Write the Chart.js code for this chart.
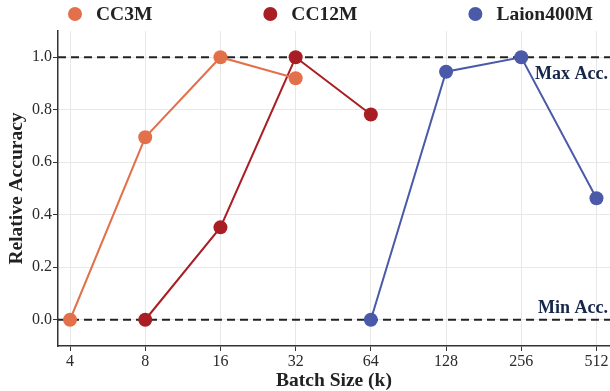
<!DOCTYPE html>
<html>
<head>
<meta charset="utf-8">
<script src="https://cdn.jsdelivr.net/npm/chart.js"></script>
<style>
  html, body { margin: 0; padding: 0; background: #fff; overflow: hidden; }
  #wrap { width: 610px; height: 391px; }
</style>
</head>
<body>
<div id="wrap"><canvas id="chart"></canvas></div>
<script>
// batch sizes (k), evenly spaced on a log2 axis
const batchSizes = [4, 8, 16, 32, 64, 128, 256, 512];
const yTicks = [0, 0.2, 0.4, 0.6, 0.8, 1.0];
const seriesNames = ['CC3M', 'CC12M', 'Laion400M'];
const seriesColors = ['#e2714b', '#a91e24', '#4a5aa8'];
const cc3m      = [0, 0.695, 1.0, 0.92, null, null, null, null];
const cc12m     = [null, 0, 0.352, 1.0, 0.782, null, null, null];
const laion400m = [null, null, null, null, 0, 0.945, 1.0, 0.463];
const refLines = [{ y: 1.0, text: 'Max Acc.', below: true }, { y: 0.0, text: 'Min Acc.', below: false }];

const SERIF = '"Liberation Serif", "Times New Roman", serif';

function toPoints(vals) {
    return vals.map((v, i) => ({ x: i, y: v })).filter(p => p.y !== null);
}

const refLinePlugin = {
    id: 'refLines',
    beforeDatasetsDraw(chart) {
        const { ctx, chartArea, scales } = chart;
        ctx.save();
        ctx.strokeStyle = '#222';
        ctx.lineWidth = 2;
        ctx.setLineDash([8, 5]);
        refLines.forEach(r => {
            const y = scales.y.getPixelForValue(r.y);
            ctx.beginPath();
            ctx.moveTo(chartArea.left, y);
            ctx.lineTo(chartArea.right, y);
            ctx.stroke();
        });
        ctx.setLineDash([]);
        ctx.fillStyle = '#16264a';
        ctx.font = 'bold 18px ' + SERIF;
        ctx.textAlign = 'right';
        ctx.textBaseline = 'alphabetic';
        refLines.forEach(r => {
            const y = scales.y.getPixelForValue(r.y);
            ctx.fillText(r.text, chartArea.right - 2, r.below ? y + 22 : y - 7);
        });
        ctx.restore();
    }
};

const legendPlugin = {
    id: 'topLegend',
    afterDraw(chart) {
        const { ctx } = chart;
        ctx.save();
        ctx.font = 'bold 19.5px ' + SERIF;
        ctx.textBaseline = 'middle';
        ctx.textAlign = 'left';
        const gap = 111, r = 7, spacing = 14;
        let x = 68;
        const y = 14;
        chart.data.datasets.forEach(ds => {
            ctx.fillStyle = ds.backgroundColor;
            ctx.beginPath();
            ctx.arc(x + r, y, r, 0, Math.PI * 2);
            ctx.fill();
            ctx.fillStyle = '#222';
            const tx = x + 2 * r + spacing;
            ctx.fillText(ds.label, tx, y + 1);
            x = tx + ctx.measureText(ds.label).width + gap;
        });
        ctx.restore();
    }
};

const series = [cc3m, cc12m, laion400m];
const datasets = series.map((vals, i) => ({
    label: seriesNames[i],
    data: toPoints(vals),
    borderColor: seriesColors[i],
    backgroundColor: seriesColors[i],
    borderWidth: 2,
    pointRadius: 7,
    pointHoverRadius: 7,
    pointBorderWidth: 0,
    tension: 0
}));

new Chart(document.getElementById('chart'), {
    type: 'line',
    data: { datasets },
    plugins: [refLinePlugin, legendPlugin],
    options: {
        responsive: true,
        maintainAspectRatio: false,
        animation: false,
        layout: { autoPadding: false, padding: { top: 31, right: 0, left: 0, bottom: 0 } },
        plugins: { legend: { display: false }, tooltip: { enabled: false } },
        scales: {
            x: {
                type: 'linear',
                min: -0.16,
                max: 7.18,
                afterBuildTicks(scale) { scale.ticks = batchSizes.map((b, i) => ({ value: i })); },
                afterFit(scale) { scale.height = 45; scale.paddingLeft = 0; scale.paddingRight = 0; },
                ticks: {
                    callback: (v) => batchSizes[v],
                    font: { family: SERIF, size: 16 },
                    color: '#2a2a2a',
                    padding: 1,
                    maxRotation: 0
                },
                grid: { color: '#e8e8e8', tickColor: '#333', tickLength: 5, lineWidth: 1 },
                border: { color: '#333', width: 1.5 },
                title: {
                    display: true,
                    text: 'Batch Size (k)',
                    font: { family: SERIF, size: 19.5, weight: 'bold' },
                    color: '#222',
                    padding: { top: 0, bottom: -2 }
                }
            },
            y: {
                min: -0.1,
                max: 1.1,
                afterBuildTicks(scale) { scale.ticks = yTicks.map(v => ({ value: v })); },
                afterFit(scale) { scale.width = 58; scale.paddingTop = 0; scale.paddingBottom = 0; },
                ticks: {
                    callback: (v) => v.toFixed(1),
                    font: { family: SERIF, size: 16 },
                    color: '#2a2a2a',
                    padding: 1
                },
                grid: { color: '#e8e8e8', tickColor: '#333', tickLength: 5, lineWidth: 1 },
                border: { color: '#333', width: 1.5 },
                title: {
                    display: true,
                    text: 'Relative Accuracy',
                    font: { family: SERIF, size: 19.5, weight: 'bold' },
                    color: '#222',
                    padding: { top: 5, bottom: 0 }
                }
            }
        }
    }
});
</script>
</body>
</html>
